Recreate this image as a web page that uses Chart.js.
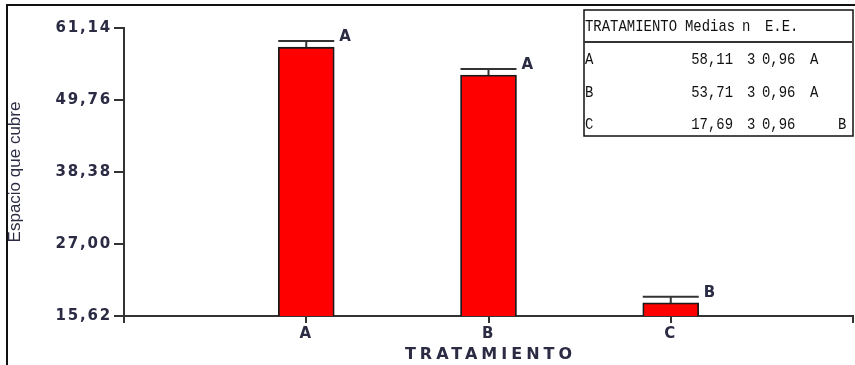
<!DOCTYPE html>
<html>
<head>
<meta charset="utf-8">
<script src="https://cdn.jsdelivr.net/npm/chart.js@4/dist/chart.umd.min.js"></script>
<style>
  html, body { margin: 0; padding: 0; background: #fff; }
  #wrap { width: 855px; height: 365px; position: relative; }
</style>
</head>
<body>
<div id="wrap"><canvas id="c" width="855" height="365"></canvas></div>
<script>
// Treatment means with standard errors and Tukey-style groupings
const categories = ['A', 'B', 'C'];
const means = [58.11, 53.71, 17.69];
const counts = [3, 3, 3];
const stdErrors = [0.96, 0.96, 0.96];
const groups = ['A', 'A', 'B'];
const yTicks = [15.62, 27.00, 38.38, 49.76, 61.14];
const xTitle = 'TRATAMIENTO';
const yTitle = 'Espacio que cubre';
const tableHeader = ['TRATAMIENTO', 'Medias', 'n', 'E.E.'];

const TEXT = '#2b2b44';
const AXIS = '#333333';
const fmt = v => v.toFixed(2).replace('.', ',');

// empty slots at both ends so the categories sit at 1/4, 2/4, 3/4 of the axis
const labels = [''].concat(categories, ['']);
const values = [null].concat(means, [null]);

const decor = {
  id: 'decor',
  beforeDraw(chart) {
    const ctx = chart.ctx;
    ctx.save();
    ctx.fillStyle = '#fff';
    ctx.fillRect(0, 0, chart.width, chart.height);
    ctx.restore();
    ctx.letterSpacing = '1.8px';
  },
  afterDatasetsDraw(chart) {
    const ctx = chart.ctx;
    const ys = chart.scales.y;
    const meta = chart.getDatasetMeta(0);
    ctx.save();
    ctx.strokeStyle = AXIS;
    ctx.lineWidth = 2;
    ctx.fillStyle = TEXT;
    ctx.font = 'bold 15px "DejaVu Sans"';
    ctx.letterSpacing = '1.8px';
    ctx.textAlign = 'left';
    ctx.textBaseline = 'middle';
    meta.data.forEach((bar, i) => {
      const k = i - 1;
      if (k < 0 || k >= means.length) return;
      const p = bar.getProps(['x', 'y', 'width'], true);
      const yCap = ys.getPixelForValue(means[k] + stdErrors[k]);
      ctx.beginPath();
      ctx.moveTo(p.x, p.y);
      ctx.lineTo(p.x, yCap);
      ctx.moveTo(p.x - p.width / 2, yCap);
      ctx.lineTo(p.x + p.width / 2, yCap);
      ctx.stroke();
      ctx.fillText(groups[k], p.x + p.width / 2 + 5, yCap - 4);
    });
    ctx.restore();
  },
  afterDraw(chart) {
    const ctx = chart.ctx;
    const area = chart.chartArea;
    ctx.save();

    // axis titles
    ctx.fillStyle = TEXT;
    ctx.letterSpacing = '0px';
    ctx.font = '17px "Liberation Sans"';
    ctx.textAlign = 'center';
    ctx.textBaseline = 'middle';
    ctx.save();
    ctx.translate(15, (area.top + area.bottom) / 2);
    ctx.rotate(-Math.PI / 2);
    ctx.fillText(yTitle, 0, 0);
    ctx.restore();

    ctx.letterSpacing = '4px';
    ctx.font = 'bold 16px "DejaVu Sans"';
    ctx.fillText(xTitle, chart.scales.x.getPixelForValue(2) + 2, 355);
    ctx.letterSpacing = '0px';

    // outer frame
    ctx.strokeStyle = '#111';
    ctx.lineWidth = 2;
    ctx.beginPath();
    ctx.moveTo(7, 366);
    ctx.lineTo(7, 5);
    ctx.lineTo(856, 5);
    ctx.stroke();

    // summary table
    const tx = 584, ty = 10, tw = 269, th = 126;
    ctx.fillStyle = '#fff';
    ctx.fillRect(tx, ty, tw, th);
    ctx.lineWidth = 1.5;
    ctx.strokeRect(tx, ty, tw, th);
    ctx.lineWidth = 2;
    ctx.strokeStyle = '#333';
    ctx.beginPath();
    ctx.moveTo(tx, 42);
    ctx.lineTo(tx + tw - 1, 42);
    ctx.stroke();

    ctx.fillStyle = '#111';
    ctx.font = '15px "Liberation Mono"';
    ctx.textBaseline = 'middle';
    const mono = (text, x, y, align) => {
      ctx.save();
      ctx.translate(x, y);
      ctx.scale(0.93, 1.05);
      ctx.textAlign = align || 'left';
      ctx.fillText(text, 0, 0);
      ctx.restore();
    };
    mono(tableHeader[0], 585, 27);
    mono(tableHeader[1], 685, 27);
    mono(tableHeader[2], 742, 27);
    mono(tableHeader[3], 765, 27);
    const rowY = [60, 93, 125];
    categories.forEach((c, i) => {
      const y = rowY[i];
      mono(c, 585, y);
      mono(fmt(means[i]), 733, y, 'right');
      mono(String(counts[i]), 747, y);
      mono(fmt(stdErrors[i]), 762, y);
      mono(groups[i], 810 + (groups[i].charCodeAt(0) - 65) * 28, y);
    });

    ctx.restore();
    ctx.letterSpacing = '0px';
  }
};

new Chart(document.getElementById('c'), {
  type: 'bar',
  data: {
    labels: labels,
    datasets: [{
      data: values,
      backgroundColor: '#ff0000',
      borderColor: '#1a1a1a',
      borderWidth: 1.8,
      barThickness: 56
    }]
  },
  options: {
    responsive: false,
    animation: false,
    devicePixelRatio: 1,
    layout: { padding: { left: 0, top: 28, right: 2, bottom: 0 } },
    plugins: { legend: { display: false }, tooltip: { enabled: false } },
    scales: {
      x: {
        type: 'category',
        offset: false,
        grid: { display: true, drawOnChartArea: false, drawTicks: true, tickLength: 7, color: AXIS, lineWidth: 2, offset: false },
        border: { display: true, color: AXIS, width: 2 },
        ticks: { color: TEXT, font: { family: 'DejaVu Sans', size: 15, weight: 'bold' }, padding: 2, autoSkip: false, maxRotation: 0 },
        afterFit(s) { s.height = 49; }
      },
      y: {
        min: yTicks[0],
        max: yTicks[yTicks.length - 1],
        afterBuildTicks(s) { s.ticks = yTicks.map(v => ({ value: v })); },
        grid: { display: true, drawOnChartArea: false, drawTicks: true, tickLength: 10, color: AXIS, lineWidth: 2 },
        border: { display: true, color: AXIS, width: 2 },
        ticks: { color: TEXT, font: { family: 'DejaVu Sans', size: 15, weight: 'bold' }, padding: 2, callback: v => fmt(v) },
        afterFit(s) { s.width = 124; }
      }
    }
  },
  plugins: [decor]
});
</script>
</body>
</html>
